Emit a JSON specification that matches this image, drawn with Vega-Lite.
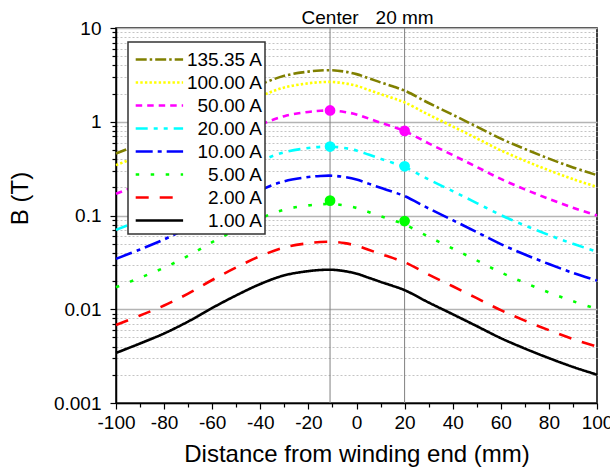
{
  "$schema": "https://vega.github.io/schema/vega-lite/v6.json",
  "width": 481,
  "height": 375,
  "autosize": {"type": "none"},
  "padding": {"left": 116, "top": 28, "right": 13, "bottom": 71},
  "config": {
    "font": "Liberation Sans",
    "view": {"stroke": "#000000", "strokeWidth": 1.5},
    "axis": {"labelColor": "#000000", "titleColor": "#000000", "tickColor": "#000000", "domainColor": "#000000", "domainWidth": 1.5, "tickWidth": 1.2, "labelFont": "Liberation Sans", "titleFont": "Liberation Sans", "labelFontSize": 19, "titleFontSize": 24, "titleFontWeight": "normal", "labelFlush": false, "labelOverlap": false},
    "legend": {"strokeWidth": 1.5}
  },
  "datasets": {
    "curves": [
      {"s":"135.35 A","x":-100,"b":0.4591},{"s":"135.35 A","x":-90,"b":0.5794},{"s":"135.35 A","x":-80,"b":0.7412},{"s":"135.35 A","x":-70,"b":0.9931},{"s":"135.35 A","x":-60,"b":1.387},{"s":"135.35 A","x":-50,"b":1.888},{"s":"135.35 A","x":-40,"b":2.495},{"s":"135.35 A","x":-30,"b":3.090},{"s":"135.35 A","x":-20,"b":3.427},{"s":"135.35 A","x":-15,"b":3.524},{"s":"135.35 A","x":-10,"b":3.540},{"s":"135.35 A","x":-5,"b":3.427},{"s":"135.35 A","x":0,"b":3.221},{"s":"135.35 A","x":5,"b":2.917},{"s":"135.35 A","x":10,"b":2.630},{"s":"135.35 A","x":15,"b":2.388},{"s":"135.35 A","x":20,"b":2.148},{"s":"135.35 A","x":30,"b":1.585},{"s":"135.35 A","x":40,"b":1.189},{"s":"135.35 A","x":50,"b":0.887},{"s":"135.35 A","x":60,"b":0.6606},{"s":"135.35 A","x":70,"b":0.5116},{"s":"135.35 A","x":80,"b":0.4045},{"s":"135.35 A","x":90,"b":0.3257},{"s":"135.35 A","x":100,"b":0.2693},
      {"s":"100.00 A","x":-100,"b":0.3443},{"s":"100.00 A","x":-90,"b":0.4345},{"s":"100.00 A","x":-80,"b":0.5559},{"s":"100.00 A","x":-70,"b":0.7448},{"s":"100.00 A","x":-60,"b":1.040},{"s":"100.00 A","x":-50,"b":1.416},{"s":"100.00 A","x":-40,"b":1.871},{"s":"100.00 A","x":-30,"b":2.318},{"s":"100.00 A","x":-20,"b":2.571},{"s":"100.00 A","x":-15,"b":2.643},{"s":"100.00 A","x":-10,"b":2.655},{"s":"100.00 A","x":-5,"b":2.571},{"s":"100.00 A","x":0,"b":2.416},{"s":"100.00 A","x":5,"b":2.188},{"s":"100.00 A","x":10,"b":1.973},{"s":"100.00 A","x":15,"b":1.791},{"s":"100.00 A","x":20,"b":1.611},{"s":"100.00 A","x":30,"b":1.189},{"s":"100.00 A","x":40,"b":0.8914},{"s":"100.00 A","x":50,"b":0.6653},{"s":"100.00 A","x":60,"b":0.4955},{"s":"100.00 A","x":70,"b":0.3837},{"s":"100.00 A","x":80,"b":0.3034},{"s":"100.00 A","x":90,"b":0.2443},{"s":"100.00 A","x":100,"b":0.2020},
      {"s":"50.00 A","x":-100,"b":0.1705},{"s":"50.00 A","x":-90,"b":0.2152},{"s":"50.00 A","x":-80,"b":0.2753},{"s":"50.00 A","x":-70,"b":0.3689},{"s":"50.00 A","x":-60,"b":0.5151},{"s":"50.00 A","x":-50,"b":0.7013},{"s":"50.00 A","x":-40,"b":0.9267},{"s":"50.00 A","x":-30,"b":1.148},{"s":"50.00 A","x":-20,"b":1.273},{"s":"50.00 A","x":-15,"b":1.309},{"s":"50.00 A","x":-10,"b":1.315},{"s":"50.00 A","x":-5,"b":1.273},{"s":"50.00 A","x":0,"b":1.197},{"s":"50.00 A","x":5,"b":1.084},{"s":"50.00 A","x":10,"b":0.977},{"s":"50.00 A","x":15,"b":0.887},{"s":"50.00 A","x":20,"b":0.7978},{"s":"50.00 A","x":30,"b":0.5888},{"s":"50.00 A","x":40,"b":0.4415},{"s":"50.00 A","x":50,"b":0.3295},{"s":"50.00 A","x":60,"b":0.2454},{"s":"50.00 A","x":70,"b":0.1901},{"s":"50.00 A","x":80,"b":0.1503},{"s":"50.00 A","x":90,"b":0.1210},{"s":"50.00 A","x":100,"b":0.1000},
      {"s":"20.00 A","x":-100,"b":0.0703},{"s":"20.00 A","x":-90,"b":0.08872},{"s":"20.00 A","x":-80,"b":0.1135},{"s":"20.00 A","x":-70,"b":0.1521},{"s":"20.00 A","x":-60,"b":0.2123},{"s":"20.00 A","x":-50,"b":0.2891},{"s":"20.00 A","x":-40,"b":0.382},{"s":"20.00 A","x":-30,"b":0.4732},{"s":"20.00 A","x":-20,"b":0.5248},{"s":"20.00 A","x":-15,"b":0.5396},{"s":"20.00 A","x":-10,"b":0.5421},{"s":"20.00 A","x":-5,"b":0.5248},{"s":"20.00 A","x":0,"b":0.4932},{"s":"20.00 A","x":5,"b":0.4467},{"s":"20.00 A","x":10,"b":0.4027},{"s":"20.00 A","x":15,"b":0.3656},{"s":"20.00 A","x":20,"b":0.3289},{"s":"20.00 A","x":30,"b":0.2427},{"s":"20.00 A","x":40,"b":0.182},{"s":"20.00 A","x":50,"b":0.1358},{"s":"20.00 A","x":60,"b":0.1012},{"s":"20.00 A","x":70,"b":0.07834},{"s":"20.00 A","x":80,"b":0.06194},{"s":"20.00 A","x":90,"b":0.04987},{"s":"20.00 A","x":100,"b":0.04124},
      {"s":"10.00 A","x":-100,"b":0.03443},{"s":"10.00 A","x":-90,"b":0.04345},{"s":"10.00 A","x":-80,"b":0.05559},{"s":"10.00 A","x":-70,"b":0.07448},{"s":"10.00 A","x":-60,"b":0.104},{"s":"10.00 A","x":-50,"b":0.1416},{"s":"10.00 A","x":-40,"b":0.1871},{"s":"10.00 A","x":-30,"b":0.2318},{"s":"10.00 A","x":-20,"b":0.2571},{"s":"10.00 A","x":-15,"b":0.2643},{"s":"10.00 A","x":-10,"b":0.2655},{"s":"10.00 A","x":-5,"b":0.2571},{"s":"10.00 A","x":0,"b":0.2416},{"s":"10.00 A","x":5,"b":0.2188},{"s":"10.00 A","x":10,"b":0.1973},{"s":"10.00 A","x":15,"b":0.1791},{"s":"10.00 A","x":20,"b":0.1611},{"s":"10.00 A","x":30,"b":0.1189},{"s":"10.00 A","x":40,"b":0.08914},{"s":"10.00 A","x":50,"b":0.06653},{"s":"10.00 A","x":60,"b":0.04955},{"s":"10.00 A","x":70,"b":0.03837},{"s":"10.00 A","x":80,"b":0.03034},{"s":"10.00 A","x":90,"b":0.02443},{"s":"10.00 A","x":100,"b":0.0202},
      {"s":"5.00 A","x":-100,"b":0.01717},{"s":"5.00 A","x":-90,"b":0.02167},{"s":"5.00 A","x":-80,"b":0.02772},{"s":"5.00 A","x":-70,"b":0.03714},{"s":"5.00 A","x":-60,"b":0.05186},{"s":"5.00 A","x":-50,"b":0.07061},{"s":"5.00 A","x":-40,"b":0.0933},{"s":"5.00 A","x":-30,"b":0.1156},{"s":"5.00 A","x":-20,"b":0.1282},{"s":"5.00 A","x":-15,"b":0.1318},{"s":"5.00 A","x":-10,"b":0.1324},{"s":"5.00 A","x":-5,"b":0.1282},{"s":"5.00 A","x":0,"b":0.1205},{"s":"5.00 A","x":5,"b":0.1091},{"s":"5.00 A","x":10,"b":0.09837},{"s":"5.00 A","x":15,"b":0.08931},{"s":"5.00 A","x":20,"b":0.08032},{"s":"5.00 A","x":30,"b":0.05928},{"s":"5.00 A","x":40,"b":0.04445},{"s":"5.00 A","x":50,"b":0.03318},{"s":"5.00 A","x":60,"b":0.02471},{"s":"5.00 A","x":70,"b":0.01914},{"s":"5.00 A","x":80,"b":0.01513},{"s":"5.00 A","x":90,"b":0.01218},{"s":"5.00 A","x":100,"b":0.01007},
      {"s":"2.00 A","x":-100,"b":0.006791},{"s":"2.00 A","x":-90,"b":0.00857},{"s":"2.00 A","x":-80,"b":0.01096},{"s":"2.00 A","x":-70,"b":0.01469},{"s":"2.00 A","x":-60,"b":0.02051},{"s":"2.00 A","x":-50,"b":0.02792},{"s":"2.00 A","x":-40,"b":0.0369},{"s":"2.00 A","x":-30,"b":0.04571},{"s":"2.00 A","x":-20,"b":0.0507},{"s":"2.00 A","x":-15,"b":0.05212},{"s":"2.00 A","x":-10,"b":0.05236},{"s":"2.00 A","x":-5,"b":0.0507},{"s":"2.00 A","x":0,"b":0.04764},{"s":"2.00 A","x":5,"b":0.04315},{"s":"2.00 A","x":10,"b":0.0389},{"s":"2.00 A","x":15,"b":0.03532},{"s":"2.00 A","x":20,"b":0.03177},{"s":"2.00 A","x":30,"b":0.02344},{"s":"2.00 A","x":40,"b":0.01758},{"s":"2.00 A","x":50,"b":0.01312},{"s":"2.00 A","x":60,"b":0.009772},{"s":"2.00 A","x":70,"b":0.007568},{"s":"2.00 A","x":80,"b":0.005983},{"s":"2.00 A","x":90,"b":0.004818},{"s":"2.00 A","x":100,"b":0.003983},
      {"s":"1.00 A","x":-100,"b":0.003419},{"s":"1.00 A","x":-90,"b":0.004314},{"s":"1.00 A","x":-80,"b":0.005519},{"s":"1.00 A","x":-70,"b":0.007395},{"s":"1.00 A","x":-60,"b":0.01032},{"s":"1.00 A","x":-50,"b":0.01406},{"s":"1.00 A","x":-40,"b":0.01858},{"s":"1.00 A","x":-30,"b":0.02301},{"s":"1.00 A","x":-20,"b":0.02552},{"s":"1.00 A","x":-15,"b":0.02624},{"s":"1.00 A","x":-10,"b":0.02636},{"s":"1.00 A","x":-5,"b":0.02552},{"s":"1.00 A","x":0,"b":0.02398},{"s":"1.00 A","x":5,"b":0.02172},{"s":"1.00 A","x":10,"b":0.01959},{"s":"1.00 A","x":15,"b":0.01778},{"s":"1.00 A","x":20,"b":0.01599},{"s":"1.00 A","x":30,"b":0.0118},{"s":"1.00 A","x":40,"b":0.008851},{"s":"1.00 A","x":50,"b":0.006605},{"s":"1.00 A","x":60,"b":0.004919},{"s":"1.00 A","x":70,"b":0.00381},{"s":"1.00 A","x":80,"b":0.003012},{"s":"1.00 A","x":90,"b":0.002425},{"s":"1.00 A","x":100,"b":0.002005}
    ],
    "marks": [
      {"s":"50.00 A","x":-11,"b":1.32},{"s":"50.00 A","x":20,"b":0.80},
      {"s":"20.00 A","x":-11,"b":0.544},{"s":"20.00 A","x":20,"b":0.335},
      {"s":"5.00 A","x":-11,"b":0.144},{"s":"5.00 A","x":20,"b":0.0873}
    ],
    "refs": [
      {"x":-11,"label":"Center","b":10},{"x":20,"label":"20 mm","b":10}
    ]
  },
  "resolve": {"axis": {"x": "independent", "y": "independent"}},
  "layer": [
    {
      "data": {"name": "refs"},
      "mark": {"type": "rule", "color": "#808080", "strokeWidth": 1},
      "encoding": {
        "x": {"field": "x", "type": "quantitative", "scale": {"domain": [-100, 100], "nice": false},
              "axis": {"orient": "bottom", "values": [-90,-70,-50,-30,-10,10,30,50,70,90], "labels": false, "tickSize": 4, "grid": false, "domain": false, "title": null}}
      }
    },
    {
      "data": {"name": "curves"},
      "mark": {"type": "line", "interpolate": "catmull-rom", "strokeWidth": 2.6, "strokeCap": "butt"},
      "encoding": {
        "x": {"field": "x", "type": "quantitative", "scale": {"domain": [-100, 100], "nice": false},
              "axis": {"orient": "bottom", "values": [-100,-80,-60,-40,-20,0,20,40,60,80,100], "labelExpr": "datum.value + ''", "tickSize": 6, "labelPadding": 4, "grid": false, "title": "Distance from winding end (mm)", "titlePadding": 10}},
        "y": {"field": "b", "type": "quantitative", "scale": {"type": "log", "domain": [0.001, 10], "nice": false},
              "axis": {"orient": "left", "values": [0.001, 0.01, 0.1, 1, 10], "format": "~g", "tickSize": 6, "labelPadding": 9, "grid": true, "gridColor": "#b4b4b4", "gridWidth": 1.6, "title": "B (T)", "titleX": -84, "titleY": 170}},
        "color": {"field": "s", "type": "nominal",
                  "scale": {"domain": ["135.35 A","100.00 A","50.00 A","20.00 A","10.00 A","5.00 A","2.00 A","1.00 A"],
                            "range": ["#808000","#FFFF00","#FF00FF","#00FFFF","#0000FF","#00FF00","#FF0000","#000000"]},
                  "legend": {"title": " ", "titleFontSize": 1, "titlePadding": 4, "orient": "none", "legendX": 12, "legendY": 14,
                             "symbolType": "M-1.6,0H14.2", "symbolSize": 36, "symbolStrokeWidth": 2.6,
                             "labelFontSize": 19, "labelFont": "Liberation Sans", "labelColor": "#000000",
                             "labelAlign": "right", "labelOffset": 112, "rowPadding": 3, "padding": 3,
                             "fillColor": "#ffffff", "strokeColor": "#333333"}},
        "strokeDash": {"field": "s", "type": "nominal",
                       "scale": {"domain": ["135.35 A","100.00 A","50.00 A","20.00 A","10.00 A","5.00 A","2.00 A","1.00 A"],
                                 "range": [[11,3,2.5,3],[2.4,2.2],[6.5,5],[12,6,4,6,4,6],[17,5,4,5],[3.5,11.5],[13,11],[1,0]]},
                       "legend": null}
      }
    },
    {
      "data": {"name": "refs"},
      "mark": {"type": "rule", "opacity": 0},
      "encoding": {
        "x": {"field": "x", "type": "quantitative", "axis": null},
        "y": {"field": "b", "type": "quantitative",
              "axis": {"orient": "left", "values": [0.002,0.003,0.004,0.005,0.006,0.007,0.008,0.009,0.02,0.03,0.04,0.05,0.06,0.07,0.08,0.09,0.2,0.3,0.4,0.5,0.6,0.7,0.8,0.9,2,3,4,5,6,7,8,9],
                       "labels": false, "tickSize": 4, "domain": false, "grid": true, "gridColor": "#c4c4c4", "gridDash": [2, 2], "gridWidth": 1, "title": null}}
      }
    },
    {
      "data": {"name": "marks"},
      "mark": {"type": "point", "filled": true, "opacity": 1, "size": 115, "shape": "circle"},
      "encoding": {
        "x": {"field": "x", "type": "quantitative", "axis": null},
        "y": {"field": "b", "type": "quantitative", "axis": null},
        "fill": {"field": "s", "type": "nominal", "scale": {"domain": ["50.00 A","20.00 A","5.00 A"], "range": ["#FF00FF","#00FFFF","#00FF00"]}, "legend": null}
      }
    },
    {
      "data": {"name": "refs"},
      "mark": {"type": "text", "fontSize": 19, "baseline": "alphabetic", "dy": -4, "color": "#000000", "font": "Liberation Sans"},
      "encoding": {
        "x": {"field": "x", "type": "quantitative", "axis": null},
        "y": {"field": "b", "type": "quantitative", "axis": null},
        "text": {"field": "label"}
      }
    }
  ]
}
